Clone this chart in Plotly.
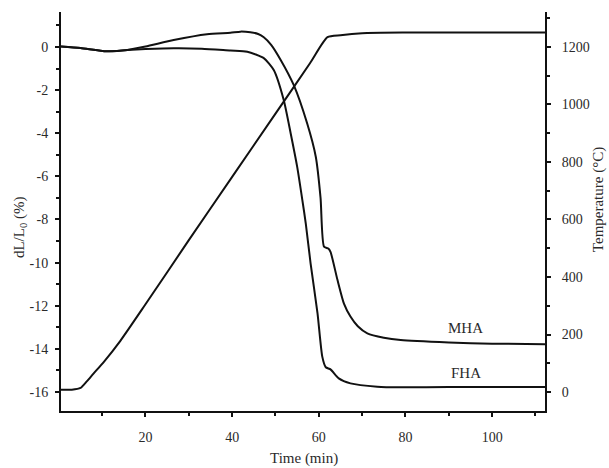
import plotly.graph_objects as go

# ---- data ----
time_temp = [0.5, 3, 5, 6.5, 8, 10.4, 14.2, 20, 30, 40, 50, 58, 62, 65, 70, 80, 90, 100, 112.2]
temperature = [8, 8, 14, 38, 64, 105, 178, 305, 528, 748, 968, 1144, 1234, 1241, 1248, 1250, 1250, 1250, 1250]

time_mha = [0.5, 5, 11, 15.8, 20, 26.5, 34.2, 39.6, 41.9, 44.2, 46, 47.3, 49, 51.2, 54.2, 57.3,
            59.3, 60.4, 61.2, 62.2, 62.7, 64.3, 65.8, 67.3, 69, 71.2, 75, 78.9, 90, 100, 112.2]
dl_mha = [0.02, -0.05, -0.2, -0.14, 0.02, 0.32, 0.59, 0.66, 0.71, 0.68, 0.6, 0.45, 0.1, -0.6, -1.76, -3.54,
          -5.09, -7.0, -9.26, -9.35, -9.5, -10.8, -11.9, -12.5, -12.95, -13.28, -13.48, -13.59, -13.7, -13.76, -13.78]

time_fha = [0.5, 5, 11, 15.8, 20, 26.5, 33, 39.6, 43.5, 47.3, 49.6, 51.9, 53.5, 55.0, 56.2, 57,
            58.1, 59.7, 60.8, 61.6, 62.7, 64.6, 67.3, 73.5, 78.9, 90, 112.2]
dl_fha = [0.02, -0.05, -0.2, -0.14, -0.1, -0.06, -0.08, -0.17, -0.22, -0.52, -1.07, -2.46, -4.0, -5.55, -7.1, -8.2,
          -10.03, -12.35, -14.36, -14.85, -14.95, -15.37, -15.6, -15.75, -15.78, -15.77, -15.77]

x_ticks = [20, 40, 60, 80, 100]
left_ticks = [-16, -14, -12, -10, -8, -6, -4, -2, 0]
right_ticks = [0, 200, 400, 600, 800, 1000, 1200]

FONT = "Liberation Serif"
INK = "#111111"
TXT = "#2a2a2a"

fig = go.Figure()
line_style = dict(color=INK, width=2, shape="spline", smoothing=0.6)
fig.add_trace(go.Scatter(x=time_mha, y=dl_mha, mode="lines", line=line_style, yaxis="y", showlegend=False))
fig.add_trace(go.Scatter(x=time_fha, y=dl_fha, mode="lines", line=line_style, yaxis="y", showlegend=False))
fig.add_trace(go.Scatter(x=time_temp, y=temperature, mode="lines", line=line_style, yaxis="y2", showlegend=False))

axis_common = dict(
    showline=True, linecolor=INK, linewidth=2, showgrid=False, zeroline=False,
    ticks="outside", ticklen=4, tickwidth=1.5, tickcolor=INK,
    tickfont=dict(family=FONT, size=14, color=TXT),
)

fig.update_layout(
    width=609, height=468,
    margin=dict(l=61, r=64, t=12, b=57),
    paper_bgcolor="white", plot_bgcolor="white",
    xaxis=dict(range=[0.5, 112.2], tickvals=x_ticks, ticktext=[str(v) for v in x_ticks],
               minor=dict(ticks="outside", dtick=10, tick0=0, ticklen=3, tickcolor=INK),
               ticklabelstandoff=8, **axis_common),
    yaxis=dict(range=[-16.88, 1.62], tickvals=left_ticks, ticktext=[str(v) for v in left_ticks],
               minor=dict(ticks="outside", dtick=1, tick0=0, ticklen=3, tickcolor=INK),
               ticklabelstandoff=4, **axis_common),
    yaxis2=dict(range=[-66, 1321.5], overlaying="y", side="right",
                tickvals=right_ticks, ticktext=[str(v) for v in right_ticks],
                minor=dict(ticks="outside", dtick=100, tick0=0, ticklen=3, tickcolor=INK),
                ticklabelstandoff=8, **axis_common),
)

ann_font = dict(family=FONT, size=15, color=TXT)
fig.add_annotation(text="Time (min)", xref="paper", yref="paper", x=0.502, y=-0.118,
                   showarrow=False, font=ann_font, xanchor="center", yanchor="middle")
fig.add_annotation(text="dL/L<sub>0</sub> (%)", xref="paper", yref="paper", x=-0.0847, y=0.461,
                   showarrow=False, font=ann_font, textangle=-90, xanchor="center", yanchor="middle")
fig.add_annotation(text="Temperature (°C)", xref="paper", yref="paper", x=1.112, y=0.529,
                   showarrow=False, font=ann_font, textangle=-90, xanchor="center", yanchor="middle")
fig.add_annotation(text="MHA", x=93.9, y=-13.03, xref="x", yref="y", showarrow=False, font=ann_font)
fig.add_annotation(text="FHA", x=93.9, y=-15.12, xref="x", yref="y", showarrow=False, font=ann_font)

fig.write_html("out.html")
